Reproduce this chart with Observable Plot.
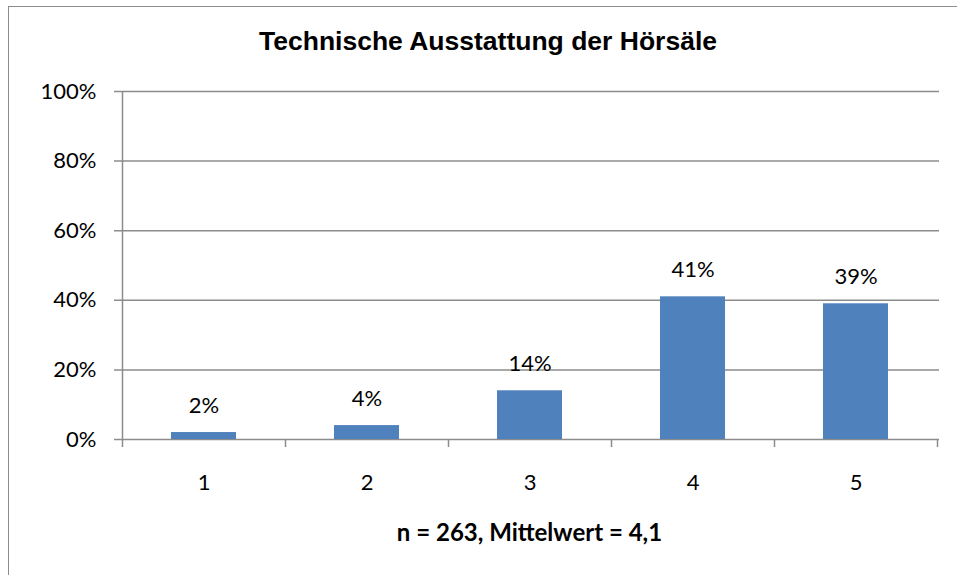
<!DOCTYPE html>
<html>
<head>
<meta charset="utf-8">
<script src="https://cdn.jsdelivr.net/npm/d3@7"></script>
<script src="https://cdn.jsdelivr.net/npm/@observablehq/plot@0.6"></script>
<style>
  html, body { margin: 0; padding: 0; background: #fff; }
  #wrap { position: relative; width: 957px; height: 575px; overflow: hidden; background: #fff; }
  #frame { position: absolute; left: 8px; top: 6px; width: 980px; height: 620px; border: 1.5px solid #8c8c8c; box-sizing: border-box; pointer-events: none; background: transparent; }
  #title { position: absolute; left: 8px; width: 960px; top: 28px; text-align: center;
           font-family: "Liberation Sans", Arial, sans-serif; font-weight: bold; font-size: 26.5px; line-height: 1; color: #000; }
  #xtitle { position: absolute; left: 122px; width: 815px; top: 520px; text-align: center;
           font-family: Lato, sans-serif; font-weight: bold; font-size: 24px; line-height: 1; color: #000; }
  #chart { position: absolute; left: 0; top: 0; }
  #chart svg { background: transparent !important; }
</style>
</head>
<body>
<div id="wrap">
  <div id="chart"></div>
  <div id="title"></div>
  <div id="xtitle"></div>
  <div id="frame"></div>
</div>
<script>
const chartTitle = "Technische Ausstattung der Hörsäle";
const xAxisTitle = "n = 263, Mittelwert = 4,1";
const categories = ["1", "2", "3", "4", "5"];
const shares = [0.02, 0.04, 0.14, 0.41, 0.39];
const yTicks = [0, 0.2, 0.4, 0.6, 0.8, 1.0];

const data = categories.map((c, i) => ({cat: c, value: shares[i]}));

const W = 957, H = 575;
const mL = 122, mR = 20, mT = 91, mB = 136;
const step = (W - mL - mR) / categories.length;
const grey = "#8c8c8c";
const pct = v => Math.round(v * 100) + "%";

const plot = Plot.plot({
  width: W,
  height: H,
  marginLeft: mL,
  marginRight: mR,
  marginTop: mT,
  marginBottom: mB,
  style: {fontFamily: "Lato, sans-serif", fontSize: "22px", color: "#000", background: "transparent"},
  x: {domain: categories, paddingInner: 0.6, paddingOuter: 0.3, axis: null, label: null},
  y: {domain: [0, 1], axis: null, label: null},
  marks: [
    Plot.ruleY(yTicks, {stroke: grey, strokeWidth: 1.5, insetLeft: -8, insetRight: -2}),
    Plot.ruleX([categories[0]], {y1: 0, y2: 1, dx: -step / 2, stroke: grey, strokeWidth: 1.5}),
    Plot.ruleX(categories, {y1: 0, y2: 0, insetBottom: -8, dx: -step / 2, stroke: grey, strokeWidth: 1.5}),
    Plot.ruleX([categories[categories.length - 1]], {y1: 0, y2: 0, insetBottom: -8, dx: step / 2, stroke: grey, strokeWidth: 1.5}),
    Plot.barY(data, {x: "cat", y: "value", fill: "#4F81BD"}),
    Plot.text(data, {x: "cat", y: "value", text: d => pct(d.value), dy: -20, lineAnchor: "bottom", fill: "#000"}),
    Plot.axisY(yTicks, {tickSize: 0, tickPadding: 26, tickFormat: pct, fill: "#000", stroke: null, label: null}),
    Plot.axisX(categories, {tickSize: 0, tickPadding: 35, fill: "#000", label: null})
  ]
});

document.getElementById("chart").appendChild(plot);
document.getElementById("title").textContent = chartTitle;
document.getElementById("xtitle").textContent = xAxisTitle;
</script>
</body>
</html>
